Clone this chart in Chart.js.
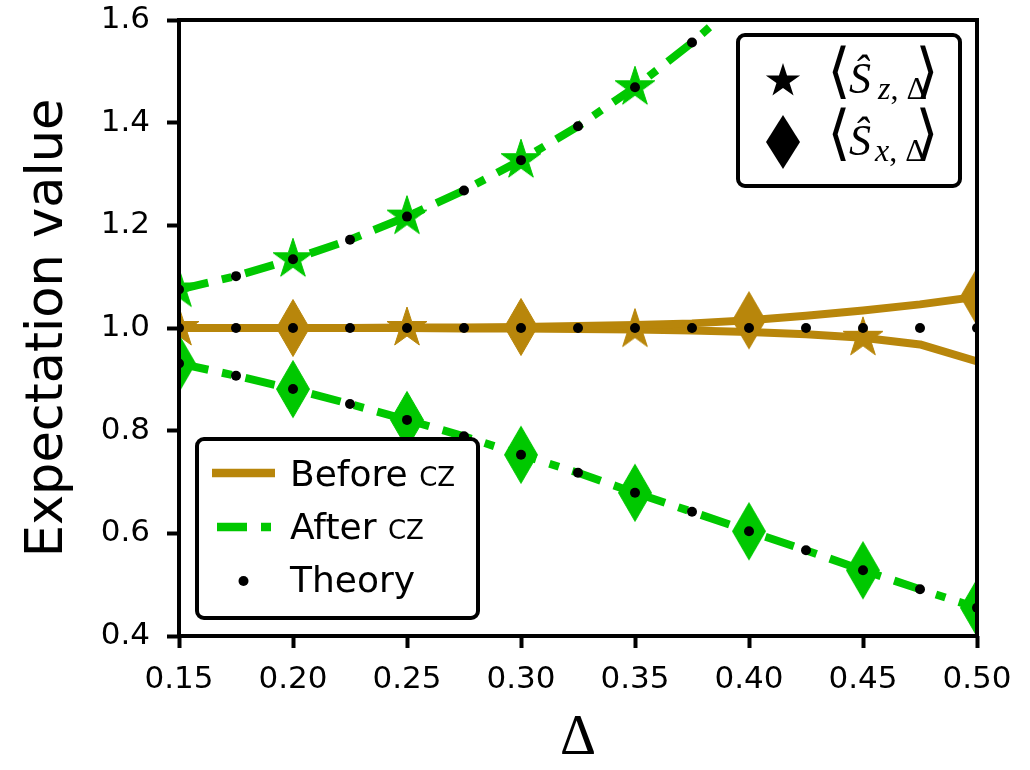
<!DOCTYPE html>
<html lang="en">
  <head>
    <meta charset="UTF-8" />
    <title>Expectation value</title>
    <script src="https://cdn.jsdelivr.net/npm/chart.js"></script>
    <style>
      body { margin: 0; background: #fff; }
      #wrap { width: 1030px; height: 770px; }
    </style>
  </head>
  <body>
    <div id="wrap"><canvas id="chart" width="1030" height="770"></canvas></div>
    <script>
      // Delta values (every 0.025)
      const deltas = [0.15, 0.175, 0.2, 0.225, 0.25, 0.275, 0.3, 0.325, 0.35, 0.375, 0.4, 0.425, 0.45, 0.475, 0.5];

      // before CZ (gold)
      const beforeSz = [1.0, 1.0, 1.0, 1.0, 1.0, 0.999, 0.999, 0.998, 0.997, 0.995, 0.992, 0.988, 0.981, 0.968, 0.935];
      const beforeSx = [1.0, 1.0, 1.0, 1.0, 1.001, 1.001, 1.002, 1.004, 1.006, 1.009, 1.015, 1.024, 1.034, 1.046, 1.061];
      // after CZ (green)
      const afterSz = [1.075, 1.101, 1.134, 1.172, 1.217, 1.268, 1.327, 1.393, 1.469, 1.556, 1.653, 1.764, 1.893, 2.035, 2.197];
      const afterSx = [0.931, 0.907, 0.881, 0.852, 0.821, 0.789, 0.753, 0.718, 0.679, 0.642, 0.604, 0.567, 0.528, 0.491, 0.455];
      // theory dots
      const theoryZ = [1.075, 1.101, 1.134, 1.172, 1.217, 1.268, 1.327, 1.393, 1.469, 1.556, 1.653, 1.764, 1.893, 2.035, 2.197];
      const theoryOne = [1, 1, 1, 1, 1, 1, 1, 1, 1, 1, 1, 1, 1, 1, 1];
      const theoryX = [0.931, 0.907, 0.881, 0.852, 0.821, 0.789, 0.753, 0.718, 0.679, 0.642, 0.604, 0.567, 0.528, 0.491, 0.455];

      // where the markers sit
      const beforeStarAt = [0.15, 0.25, 0.35, 0.45];
      const beforeDiamondAt = [0.2, 0.3, 0.4, 0.5];
      const afterMarkAt = [0.15, 0.2, 0.25, 0.3, 0.35, 0.4, 0.45, 0.5];

      // ticks
      const xTicks = [0.15, 0.2, 0.25, 0.3, 0.35, 0.4, 0.45, 0.5];
      const xTickLabels = ["0.15", "0.20", "0.25", "0.30", "0.35", "0.40", "0.45", "0.50"];
      const yTicks = [0.4, 0.6, 0.8, 1.0, 1.2, 1.4, 1.6];
      const yTickLabels = ["0.4", "0.6", "0.8", "1.0", "1.2", "1.4", "1.6"];

      const GOLD = "#b8860b";
      const GREEN = "#00c800";

      function starPath(ctx, cx, cy, R) {
        const r = R * 0.381966;
        ctx.beginPath();
        for (let i = 0; i < 10; i++) {
          const a = -Math.PI / 2 + (i * Math.PI) / 5;
          const rr = i % 2 === 0 ? R : r;
          const px = cx + rr * Math.cos(a);
          const py = cy + rr * Math.sin(a);
          if (i === 0) ctx.moveTo(px, py);
          else ctx.lineTo(px, py);
        }
        ctx.closePath();
      }

      function diamondPath(ctx, cx, cy, hw, hh) {
        ctx.beginPath();
        ctx.moveTo(cx, cy - hh);
        ctx.lineTo(cx + hw, cy);
        ctx.lineTo(cx, cy + hh);
        ctx.lineTo(cx - hw, cy);
        ctx.closePath();
      }

      function makeMarker(kind, color) {
        const c = document.createElement("canvas");
        const w = kind === "star" ? 46 : 38;
        const h = kind === "star" ? 46 : 62;
        c.width = w;
        c.height = h;
        const g = c.getContext("2d");
        if (kind === "star") starPath(g, w / 2, h / 2, 21);
        else diamondPath(g, w / 2, h / 2, 16.5, 28.5);
        g.fillStyle = color;
        g.fill();
        g.lineWidth = 1;
        g.strokeStyle = color;
        g.stroke();
        return c;
      }

      const starGold = makeMarker("star", GOLD);
      const diamondGold = makeMarker("diamond", GOLD);
      const starGreen = makeMarker("star", GREEN);
      const diamondGreen = makeMarker("diamond", GREEN);

      const toPts = (ys) => deltas.map((x, i) => ({ x: x, y: ys[i] }));
      const hasMark = (list) => (ctx) => {
        const x = deltas[ctx.dataIndex];
        return list.some((m) => Math.abs(m - x) < 1e-9) ? 12 : 0;
      };

      function expSet(label, ys, color, marker, marks, dashed, order) {
        return {
          label: label,
          data: toPts(ys),
          showLine: true,
          borderColor: color,
          backgroundColor: color,
          borderWidth: 8,
          borderDash: dashed ? [30, 14, 10, 14] : [],
          borderCapStyle: dashed ? "butt" : "square",
          borderJoinStyle: "round",
          tension: 0,
          pointStyle: marker,
          pointRadius: hasMark(marks),
          pointHoverRadius: 0,
          clip: 0,
          order: order,
        };
      }

      const theoryPts = toPts(theoryZ).concat(toPts(theoryOne), toPts(theoryX));

      // frame over the data
      const framePlugin = {
        id: "frame",
        afterDatasetsDraw(chart) {
          const { ctx, chartArea: a } = chart;
          ctx.save();
          ctx.lineWidth = 4;
          ctx.strokeStyle = "#000";
          ctx.strokeRect(a.left, a.top, a.right - a.left, a.bottom - a.top);
          ctx.restore();
        },
      };

      function box(ctx, x, y, w, h, r) {
        ctx.beginPath();
        ctx.moveTo(x + r, y);
        ctx.arcTo(x + w, y, x + w, y + h, r);
        ctx.arcTo(x + w, y + h, x, y + h, r);
        ctx.arcTo(x, y + h, x, y, r);
        ctx.arcTo(x, y, x + w, y, r);
        ctx.closePath();
        ctx.fillStyle = "#fff";
        ctx.fill();
        ctx.lineWidth = 4;
        ctx.strokeStyle = "#000";
        ctx.stroke();
      }

      // <S_{sub, Delta}>, S baseline at base
      function mathLabel(ctx, base, sub, subX) {
        ctx.fillStyle = "#000";
        ctx.textAlign = "center";
        ctx.textBaseline = "middle";
        ctx.font = '60px "DejaVu Sans"';
        ctx.fillText("\u27E8", 839, base - 18);
        ctx.fillText("\u27E9", 927, base - 18);
        ctx.textAlign = "left";
        ctx.textBaseline = "alphabetic";
        ctx.font = 'italic 44px "Liberation Serif"';
        ctx.fillText("\u015C", 849, base);
        ctx.font = 'italic 32px "Liberation Serif"';
        ctx.fillText(sub, subX, base + 6);
        let cx = subX + ctx.measureText(sub).width;
        ctx.font = '32px "Liberation Serif"';
        ctx.fillText(", \u0394", cx, base + 6);
      }

      const legendPlugin = {
        id: "legends",
        afterDraw(chart) {
          const ctx = chart.ctx;
          ctx.save();
          // lines legend, lower left
          box(ctx, 197, 439, 281, 179, 7);
          ctx.lineWidth = 8.5;
          ctx.lineCap = "butt";
          ctx.strokeStyle = GOLD;
          ctx.beginPath();
          ctx.moveTo(212, 473);
          ctx.lineTo(275, 473);
          ctx.stroke();
          ctx.strokeStyle = GREEN;
          ctx.setLineDash([30, 14, 10, 14]);
          ctx.lineDashOffset = 63;
          ctx.beginPath();
          ctx.moveTo(212, 527);
          ctx.lineTo(275, 527);
          ctx.stroke();
          ctx.setLineDash([]);
          ctx.fillStyle = "#000";
          ctx.beginPath();
          ctx.arc(243.5, 581, 5, 0, Math.PI * 2);
          ctx.fill();

          ctx.textAlign = "left";
          ctx.textBaseline = "alphabetic";
          const rows = [["Before ", 486], ["After ", 539]];
          rows.forEach(([t, y]) => {
            ctx.font = '36px "DejaVu Sans"';
            ctx.fillText(t, 290, y);
            const w = ctx.measureText(t).width;
            ctx.font = '26px "DejaVu Sans"';
            ctx.fillText("CZ", 290 + w, y);
          });
          ctx.font = '36px "DejaVu Sans"';
          ctx.fillText("Theory", 290, 592);

          // marker legend, upper right
          box(ctx, 738, 35, 222, 151, 7);
          ctx.fillStyle = "#000";
          starPath(ctx, 783, 81, 18);
          ctx.fill();
          diamondPath(ctx, 783, 142, 17, 27);
          ctx.fill();
          mathLabel(ctx, 93, "z", 878);
          mathLabel(ctx, 155, "x", 875);
          ctx.restore();
        },
      };

      new Chart(document.getElementById("chart"), {
        type: "scatter",
        data: {
          datasets: [
            {
              label: "Theory",
              data: theoryPts,
              showLine: false,
              pointStyle: "circle",
              pointRadius: 5,
              pointHoverRadius: 5,
              backgroundColor: "#000",
              borderColor: "#000",
              borderWidth: 0,
              clip: 0,
              order: 0,
            },
            expSet("After CZ Sx", afterSx, GREEN, diamondGreen, afterMarkAt, true, 1),
            expSet("After CZ Sz", afterSz, GREEN, starGreen, afterMarkAt, true, 2),
            expSet("Before CZ Sx", beforeSx, GOLD, diamondGold, beforeDiamondAt, false, 3),
            expSet("Before CZ Sz", beforeSz, GOLD, starGold, beforeStarAt, false, 4),
          ],
        },
        options: {
          responsive: false,
          animation: false,
          events: [],
          layout: { padding: { left: 0, right: 53, top: 18, bottom: 0 } },
          plugins: { legend: { display: false }, tooltip: { enabled: false } },
          scales: {
            x: {
              type: "linear",
              min: 0.15,
              max: 0.5,
              afterBuildTicks: (s) => {
                s.ticks = xTicks.map((v) => ({ value: v }));
              },
              afterFit: (s) => {
                s.height = 134;
                s.paddingLeft = 0;
                s.paddingRight = 0;
              },
              ticks: {
                callback: (v, i) => xTickLabels[i],
                color: "#000",
                font: { family: "DejaVu Sans", size: 31, lineHeight: 1 },
                padding: 16,
                maxRotation: 0,
                autoSkip: false,
              },
              grid: { drawOnChartArea: false, tickLength: 12, tickWidth: 4, tickColor: "#000" },
              border: { display: false },
              title: {
                display: true,
                text: "\u0394",
                color: "#000",
                font: { family: "Liberation Serif", size: 56, lineHeight: 1 },
                padding: { top: 0, bottom: 3 },
              },
            },
            y: {
              min: 0.4,
              max: 1.6,
              afterBuildTicks: (s) => {
                s.ticks = yTicks.map((v) => ({ value: v }));
              },
              afterFit: (s) => {
                s.width = 179;
                s.paddingTop = 0;
                s.paddingBottom = 0;
              },
              ticks: {
                callback: (v, i) => yTickLabels[i],
                color: "#000",
                font: { family: "DejaVu Sans", size: 31, lineHeight: 1 },
                padding: 17,
                autoSkip: false,
              },
              grid: { drawOnChartArea: false, tickLength: 12, tickWidth: 4, tickColor: "#000" },
              border: { display: false },
              title: {
                display: true,
                text: "Expectation value",
                color: "#000",
                font: { family: "DejaVu Sans", size: 51, lineHeight: 1 },
                padding: { top: 23, bottom: 0 },
              },
            },
          },
        },
        plugins: [framePlugin, legendPlugin],
      });
    </script>
  </body>
</html>
